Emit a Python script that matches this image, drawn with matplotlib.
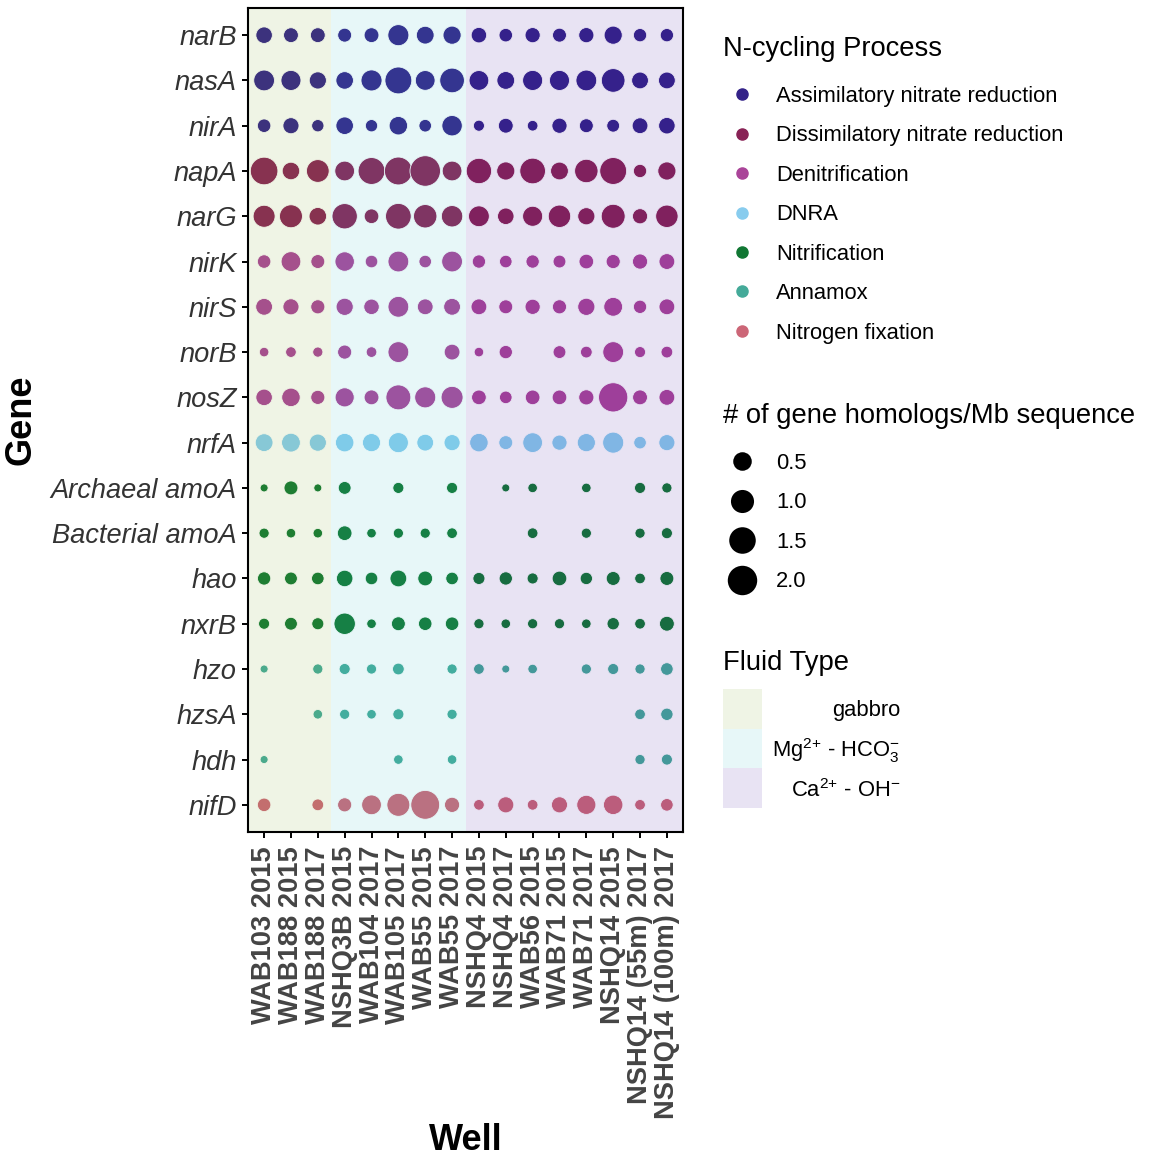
import numpy as np
import matplotlib
matplotlib.use("Agg")
import matplotlib.pyplot as plt
from matplotlib.lines import Line2D
from matplotlib.patches import Rectangle

plt.rcParams['font.family'] = ['Liberation Sans', 'DejaVu Sans']
plt.rcParams['mathtext.default'] = 'regular'

# ---------------- data ----------------
wells = ['WAB103 2015', 'WAB188 2015', 'WAB188 2017', 'NSHQ3B 2015', 'WAB104 2017',
         'WAB105 2017', 'WAB55 2015', 'WAB55 2017', 'NSHQ4 2015', 'NSHQ4 2017',
         'WAB56 2015', 'WAB71 2015', 'WAB71 2017', 'NSHQ14 2015',
         'NSHQ14 (55m) 2017', 'NSHQ14 (100m) 2017']
well_fluid = ['gabbro'] * 3 + ['Mg'] * 5 + ['Ca'] * 8

fluid_types = ['gabbro', 'Mg', 'Ca']
fluid_labels = ['gabbro', r'Mg$^{2{+}}$ - HCO$_3^{{-}}$', r'Ca$^{2{+}}$ - OH$^{{-}}$']
fluid_colors = ['#82ac2f', '#3fc5cd', '#481ea3']

processes = ['Assimilatory nitrate reduction', 'Dissimilatory nitrate reduction',
             'Denitrification', 'DNRA', 'Nitrification', 'Annamox', 'Nitrogen fixation']
process_colors = ['#332288', '#882255', '#AA4499', '#88CCEE', '#117733', '#44AA99', '#CC6677']

genes = ['narB', 'nasA', 'nirA', 'napA', 'narG', 'nirK', 'nirS', 'norB', 'nosZ', 'nrfA',
         'Archaeal amoA', 'Bacterial amoA', 'hao', 'nxrB', 'hzo', 'hzsA', 'hdh', 'nifD']
gene_process = [0, 0, 0, 1, 1, 2, 2, 2, 2, 3, 4, 4, 4, 4, 5, 5, 5, 6]

nan = np.nan
narB = [0.33, 0.22, 0.22, 0.17, 0.22, 0.75, 0.43, 0.46, 0.26, 0.15, 0.24, 0.17, 0.24, 0.46, 0.14, 0.14]
nasA = [0.72, 0.64, 0.38, 0.41, 0.75, 1.55, 0.61, 1.21, 0.61, 0.43, 0.64, 0.64, 0.72, 1.07, 0.35, 0.35]
nirA = [0.15, 0.30, 0.10, 0.41, 0.10, 0.49, 0.11, 0.68, 0.06, 0.22, 0.05, 0.24, 0.17, 0.12, 0.28, 0.33]
napA = [1.67, 0.41, 0.95, 0.61, 1.55, 1.72, 2.20, 0.61, 1.31, 0.46, 1.36, 0.43, 1.04, 1.55, 0.14, 0.46]
narG = [0.86, 0.98, 0.41, 1.31, 0.21, 1.36, 1.04, 0.79, 0.72, 0.33, 0.64, 0.91, 0.38, 1.11, 0.24, 0.91]
nirK = [0.15, 0.61, 0.17, 0.58, 0.11, 0.72, 0.11, 0.72, 0.14, 0.11, 0.14, 0.12, 0.21, 0.18, 0.24, 0.28]
nirS = [0.35, 0.30, 0.18, 0.38, 0.26, 0.72, 0.28, 0.35, 0.28, 0.17, 0.24, 0.18, 0.38, 0.52, 0.14, 0.28]
norB = [0.03, 0.05, 0.04, 0.18, 0.05, 0.72, nan, 0.28, 0.03, 0.14, nan, 0.12, 0.08, 0.72, 0.06, 0.08]
nosZ = [0.33, 0.49, 0.18, 0.55, 0.22, 1.25, 0.75, 0.86, 0.21, 0.11, 0.21, 0.21, 0.24, 1.96, 0.22, 0.28]
nrfA = [0.43, 0.52, 0.38, 0.49, 0.46, 0.64, 0.35, 0.30, 0.49, 0.17, 0.61, 0.24, 0.46, 0.75, 0.11, 0.30]
archaeal_amoA = [0.02, 0.17, 0.02, 0.12, nan, 0.06, nan, 0.06, nan, 0.02, 0.03, nan, 0.03, nan, 0.06, 0.04]
bacterial_amoA = [0.04, 0.03, 0.03, 0.21, 0.03, 0.04, 0.04, 0.05, nan, nan, 0.05, nan, 0.04, nan, 0.04, 0.06]
hao = [0.14, 0.12, 0.11, 0.33, 0.11, 0.35, 0.22, 0.11, 0.09, 0.14, 0.06, 0.21, 0.10, 0.17, 0.05, 0.17]
nxrB = [0.06, 0.12, 0.09, 0.79, 0.03, 0.17, 0.15, 0.15, 0.04, 0.03, 0.04, 0.04, 0.03, 0.10, 0.05, 0.22]
hzo = [0.02, nan, 0.04, 0.06, 0.04, 0.08, nan, 0.04, 0.05, 0.02, 0.03, nan, 0.04, 0.06, 0.04, 0.11]
hzsA = [nan, nan, 0.03, 0.04, 0.03, 0.06, nan, 0.04, nan, nan, nan, nan, nan, nan, 0.05, 0.10]
hdh = [0.02, nan, nan, nan, nan, 0.03, nan, 0.03, nan, nan, nan, nan, nan, nan, 0.04, 0.06]
nifD = [0.15, nan, 0.08, 0.18, 0.61, 0.98, 1.89, 0.24, 0.05, 0.30, 0.05, 0.30, 0.55, 0.58, 0.05, 0.11]

gene_values = [narB, nasA, nirA, napA, narG, nirK, nirS, norB, nosZ, nrfA,
               archaeal_amoA, bacterial_amoA, hao, nxrB, hzo, hzsA, hdh, nifD]
size_breaks = [0.5, 1.0, 1.5, 2.0]

# ---------------- size scale (area-style, like ggplot scale_size) ----------------
allv = np.array(gene_values, dtype=float)
VMIN, VMAX = np.nanmin(allv), np.nanmax(allv)
DMIN_PX, DMAX_PX = 8.0, 30.5
EDGE_LW = 0.6


def diam_pt(v):
    v = np.asarray(v, dtype=float)
    frac = np.clip((v - VMIN) / (VMAX - VMIN), 0, 1)
    return (DMIN_PX + (DMAX_PX - DMIN_PX) * np.sqrt(frac)) * 0.72


# ---------------- figure ----------------
W = H = 1169
fig = plt.figure(figsize=(W / 100, H / 100), dpi=100)
ax = fig.add_axes([248 / W, 1 - 832 / H, 435 / W, 824 / H])

n_w, n_g = len(wells), len(genes)
XLO, XHI = -0.6, n_w - 1 + 0.6
ax.set_xlim(XLO, XHI)
ax.set_ylim(n_g - 1 + 0.6, -0.6)

x_pos = np.arange(n_w)
for gi, vals in enumerate(gene_values):
    vals = np.array(vals, dtype=float)
    ok = ~np.isnan(vals)
    d = diam_pt(vals[ok])
    ax.scatter(x_pos[ok], np.full(ok.sum(), gi), s=d ** 2,
               color=process_colors[gene_process[gi]], edgecolors='white',
               linewidths=EDGE_LW, zorder=2)

# fluid type shading (overlay with transparency, as in the original)
FLUID_ALPHA = 0.12
wf = np.array(well_fluid)
for f, col in zip(fluid_types, fluid_colors):
    idx = np.where(wf == f)[0]
    lo = idx.min() - 0.5
    hi = idx.max() + 0.5
    if idx.min() == 0:
        lo = XLO
    if idx.max() == n_w - 1:
        hi = XHI
    ax.axvspan(lo, hi, color=col, alpha=FLUID_ALPHA, lw=0, zorder=3)

ax.set_xticks(x_pos)
ax.set_xticklabels(wells, rotation=90, fontsize=19.6, fontweight='bold', color='#444444',
                   va='top', ha='center')
ax.set_yticks(np.arange(n_g))
ax.set_yticklabels(genes, fontsize=19.6, fontstyle='italic', color='#333333')
ax.tick_params(axis='both', length=4, width=1.4, color='black')
ax.tick_params(axis='x', pad=6)
ax.tick_params(axis='y', pad=4)
for sp in ax.spines.values():
    sp.set_linewidth(1.5)
    sp.set_color('black')
    sp.set_zorder(5)

ax.set_xlabel('Well', fontsize=26, fontweight='bold', color='black')
ax.xaxis.set_label_coords(0.5, -0.374)
ax.xaxis.label.set_va('center')
ax.set_ylabel('Gene', fontsize=26, fontweight='bold', color='black')
ax.yaxis.set_label_coords(-0.522, 0.5)
ax.yaxis.label.set_va('center')

# ---------------- legends ----------------
LBL_FS = 15.8
TTL_FS = 19.7
LSP = 0.84
TITLE_SEP = LSP * LBL_FS + 4.0

proc_handles = [Line2D([], [], ls='', marker='o', markersize=8, markerfacecolor=c,
                       markeredgecolor=c) for c in process_colors]
leg1 = fig.legend(proc_handles, processes, title='N-cycling Process', loc='upper left',
                  bbox_to_anchor=(723 / W, 1 - 36 / H), frameon=False, fontsize=LBL_FS,
                  title_fontsize=TTL_FS, alignment='left', handlelength=1.75,
                  handletextpad=0.68, labelspacing=LSP, borderpad=0, borderaxespad=0)
leg1._legend_box.sep = TITLE_SEP

size_handles = [Line2D([], [], ls='', marker='o', markersize=float(diam_pt(b)),
                       markerfacecolor='black', markeredgecolor='black', markeredgewidth=0)
                for b in size_breaks]
leg2 = fig.legend(size_handles, [f'{b:.1f}' for b in size_breaks],
                  title='# of gene homologs/Mb sequence', loc='upper left',
                  bbox_to_anchor=(723 / W, 1 - 403 / H), frameon=False, fontsize=LBL_FS,
                  title_fontsize=TTL_FS, alignment='left', handlelength=1.75,
                  handletextpad=0.68, labelspacing=LSP, borderpad=0, borderaxespad=0)
leg2._legend_box.sep = TITLE_SEP

# Fluid type legend (keys stacked, labels right-aligned)
axf = fig.add_axes([723 / W, 1 - 808 / H, (900 - 723) / W, (808 - 689) / H])
axf.set_xlim(0, 1)
axf.set_ylim(0, 3)
axf.axis('off')
key_w = (762 - 723) / (900 - 723)
for i, (lab, col) in enumerate(zip(fluid_labels, fluid_colors)):
    yb = 2 - i
    axf.add_patch(Rectangle((0, yb), key_w, 1, facecolor='white', lw=0))
    axf.add_patch(Rectangle((0, yb), key_w, 1, facecolor=col, alpha=FLUID_ALPHA, lw=0))
    axf.text(1.0, yb + 0.45, lab, ha='right', va='center', fontsize=LBL_FS)
axf.text(0, 3 + (689 - 663) / ((808 - 689) / 3), 'Fluid Type', ha='left', va='center',
         fontsize=TTL_FS)

fig.savefig('out.png', dpi=100)
